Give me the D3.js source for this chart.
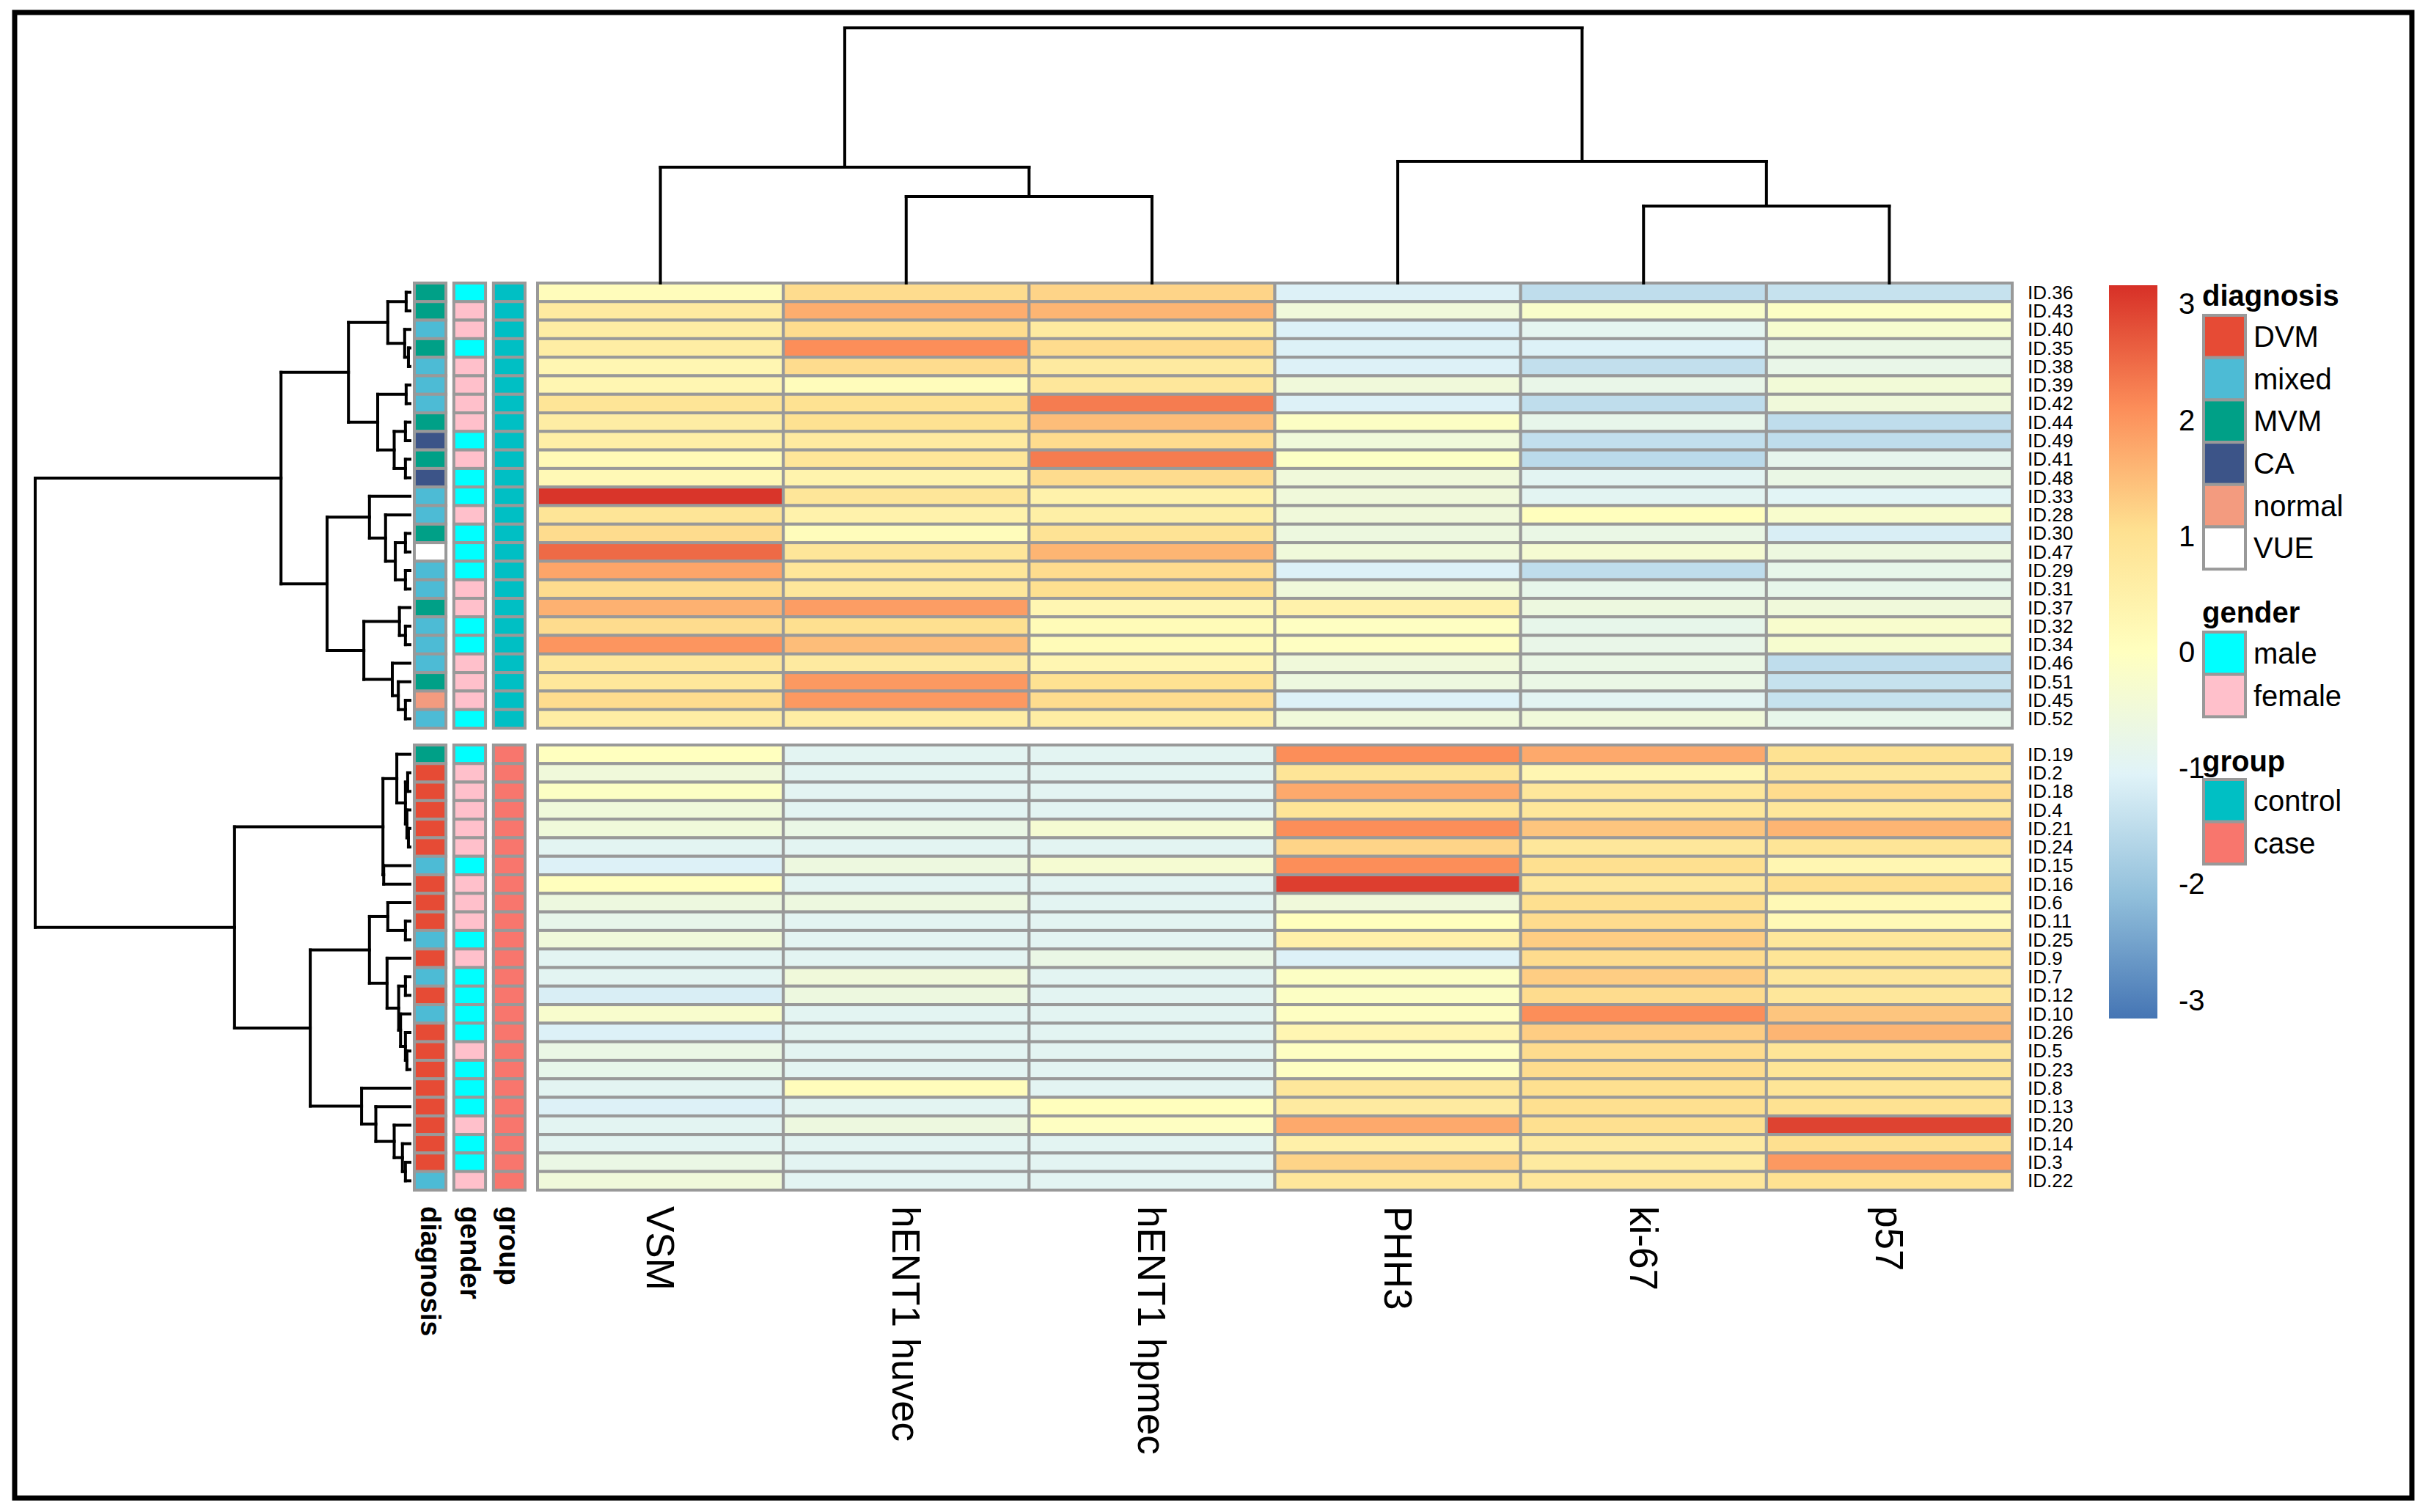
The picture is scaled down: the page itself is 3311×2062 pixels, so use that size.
<!DOCTYPE html>
<html><head><meta charset="utf-8">
<script src="https://cdn.jsdelivr.net/npm/d3@7"></script>
<style>body{margin:0;background:#fff} svg{display:block} text{font-family:"Liberation Sans",Arial,Helvetica,sans-serif;fill:#000}</style>
</head><body><svg id="c" width="3311" height="2062"></svg>
<script>
// ---------------- data ----------------
const columns = ["VSM","hENT1 huvec","hENT1 hpmec","PHH3","ki-67","p57"];
const annotNames = ["diagnosis","gender","group"];

const rowsTop = ["ID.36","ID.43","ID.40","ID.35","ID.38","ID.39","ID.42","ID.44","ID.49","ID.41","ID.48","ID.33",
  "ID.28","ID.30","ID.47","ID.29","ID.31","ID.37","ID.32","ID.34","ID.46","ID.51","ID.45","ID.52"];
const rowsBottom = ["ID.19","ID.2","ID.18","ID.4","ID.21","ID.24","ID.15","ID.16","ID.6","ID.11","ID.25","ID.9",
  "ID.7","ID.12","ID.10","ID.26","ID.5","ID.23","ID.8","ID.13","ID.20","ID.14","ID.3","ID.22"];

const valuesTop = [
  [0.1,1.1,1.2,-1.1,-1.5,-1.4],
  [0.7,1.7,1.6,-0.5,-0.2,-0.1],
  [0.6,1.1,0.7,-1.1,-0.9,-0.3],
  [0.6,2.1,1.1,-1.1,-1.1,-0.7],
  [0.3,1.1,0.7,-1.1,-1.45,-0.75],
  [0.3,0.1,0.8,-0.5,-0.75,-0.45],
  [0.9,1.0,2.3,-1.1,-1.5,-0.5],
  [0.6,1.0,1.5,-0.1,-0.8,-1.5],
  [0.55,0.7,1.1,-0.5,-1.45,-1.5],
  [0.2,0.85,2.3,-0.1,-1.55,-0.85],
  [0.2,0.4,1.1,-0.5,-0.95,-0.7],
  [3.1,0.85,0.45,-0.5,-0.95,-1.0],
  [0.9,0.45,0.55,-0.5,0.05,-0.25],
  [1.1,0.1,0.95,-0.6,-0.7,-1.15],
  [2.5,0.85,1.6,-0.5,-0.35,-0.6],
  [1.8,0.85,1.1,-1.1,-1.5,-0.8],
  [1.1,0.8,1.05,-0.5,-0.8,-0.8],
  [1.65,1.9,0.3,0.45,-0.6,-0.5],
  [1.1,1.05,0.15,-0.05,-0.8,-0.25],
  [2.0,1.5,0.15,-0.05,-0.75,-0.3],
  [0.8,0.7,0.3,-0.5,-0.7,-1.5],
  [0.8,1.95,1.0,-0.6,-0.7,-1.4],
  [1.1,1.95,1.1,-1.1,-0.95,-1.4],
  [0.6,0.6,0.6,-0.5,-0.5,-0.8]
];
const valuesBottom = [
  [0.0,-0.95,-0.95,2.1,1.75,1.0],
  [-0.5,-0.95,-0.95,0.9,0.3,0.8],
  [-0.1,-0.95,-0.95,1.75,0.8,1.1],
  [-0.5,-0.95,-0.95,0.9,0.8,0.8],
  [-0.5,-0.7,-0.35,2.1,1.4,1.6],
  [-0.95,-0.95,-0.95,1.2,0.8,0.9],
  [-1.1,-0.6,-0.35,2.1,1.05,0.3],
  [0.05,-0.95,-0.95,3.0,0.8,1.05],
  [-0.6,-0.6,-0.95,-0.5,1.05,0.2],
  [-0.8,-0.95,-0.95,0.05,1.1,0.2],
  [-0.5,-0.95,-0.95,0.5,1.3,0.8],
  [-0.95,-0.95,-0.7,-1.1,1.1,0.9],
  [-0.95,-0.5,-0.95,-0.1,1.3,0.8],
  [-1.15,-0.6,-0.95,-0.1,1.1,0.8],
  [-0.25,-0.95,-0.95,-0.05,2.1,1.4],
  [-1.1,-0.95,-0.95,0.3,1.3,1.6],
  [-0.7,-0.95,-0.95,-0.05,1.1,0.9],
  [-0.8,-0.95,-0.95,-0.05,1.1,0.9],
  [-0.95,0.1,-0.95,0.8,1.05,0.9],
  [-1.1,-0.95,0.05,0.7,1.05,1.0],
  [-0.95,-0.6,-0.05,1.75,1.05,2.95],
  [-0.95,-0.95,-0.95,0.5,0.7,1.05],
  [-0.7,-0.95,-0.95,1.2,0.7,1.95],
  [-0.5,-0.95,-0.95,0.8,0.8,1.0]
];

const diagnosisTop = ["MVM","MVM","mixed","MVM","mixed","mixed","mixed","MVM","CA","MVM","CA","mixed",
  "mixed","MVM","VUE","mixed","mixed","MVM","mixed","mixed","mixed","MVM","normal","mixed"];
const genderTop = ["male","female","female","male","female","female","female","female","male","female","male","male",
  "female","male","male","male","female","female","male","male","female","female","female","male"];
const groupTop = Array(24).fill("control");
const diagnosisBottom = ["MVM","DVM","DVM","DVM","DVM","DVM","mixed","DVM","DVM","DVM","mixed","DVM",
  "mixed","DVM","mixed","DVM","DVM","DVM","DVM","DVM","DVM","DVM","DVM","mixed"];
const genderBottom = ["male","female","female","female","female","female","male","female","female","female","male","female",
  "male","male","male","male","female","male","male","male","female","male","male","female"];
const groupBottom = Array(24).fill("case");

const diagnosisLevels = ["DVM","mixed","MVM","CA","normal","VUE"];
const diagnosisColors = ["#E64B35","#4DBBD5","#00A087","#3C5488","#F39B7F","#FFFFFF"];
const genderLevels = ["male","female"];
const genderColors = ["#00FFFF","#FFC0CB"];
const groupLevels = ["control","case"];
const groupColors = ["#00BFC4","#F8766D"];

const heatColors = ["#4575B4","#91BFDB","#E0F3F8","#FFFFBF","#FEE090","#FC8D59","#D73027"];
const colorbarTicks = [3,2,1,0,-1,-2,-3];

// column dendrogram: [height, left, right], leaves = column index
const colTree = [10, [4.54, 0, [3.39, 1, 2]], [4.77, 3, [3.02, 4, 5]]];
// row dendrogram: leaves = row index (0-23 top block, 24-47 bottom block)
const rowTree = [10,
  [3.44,
    [1.64,
      [0.59, [0.1,0,1], [0.14,2,[0.04,3,4]]],
      [0.86, [0.1,5,6], [0.42,[0.12,7,8],[0.12,9,10]]]],
    [2.21,
      [1.08, 11, [0.65, 12, [0.39, [0.12,13,14], [0.12,15,16]]]],
      [1.23, [0.28, 17, [0.12,18,19]], [0.47, 20, [0.31, 21, [0.12,22,23]]]]]],
  [4.68,
    [0.72,
      [0.35, 24, [0.12, [0.06,25,26], [0.08, 27, [0.04,28,29]]]],
      [0.70, 30, 31]],
    [2.66,
      [1.08,
        [0.59, 32, [0.12,33,34]],
        [0.61, 35, [0.30, [0.12,36,37], [0.25, 38, [0.12, 39, [0.08,40,41]]]]]],
      [1.29, 42, [0.91, 43, [0.42, 44, [0.2, 45, [0.12,46,47]]]]]]]
];

// ---------------- drawing ----------------
const svg = d3.select("#c");
const GRID = "#999999";

svg.append("rect").attr("x",20).attr("y",17).attr("width",3269).attr("height",2026)
  .attr("fill","none").attr("stroke","#000").attr("stroke-width",7);

const x = d3.scaleBand().domain(columns).range([733, 2744]);
const yTop = d3.scaleBand().domain(rowsTop).range([386, 993]);
const yBot = d3.scaleBand().domain(rowsBottom).range([1016, 1623]);
const xAnn = d3.scaleBand().domain(annotNames).range([565, 716]).paddingInner(0.2);
const color = d3.scaleLinear()
  .domain(d3.range(7).map(i => -3.16 + i*6.32/6))
  .range(heatColors).clamp(true);

function block(rows, vals, yS, ann) {
  const g = svg.append("g");
  rows.forEach((r, i) => {
    g.selectAll(null).data(vals[i]).join("rect")
      .attr("x", (d, j) => x(columns[j])).attr("y", yS(r))
      .attr("width", x.bandwidth()).attr("height", yS.bandwidth())
      .attr("fill", d => color(d)).attr("stroke", GRID).attr("stroke-width", 4);
  });
  const annColor = {
    diagnosis: d3.scaleOrdinal(diagnosisLevels, diagnosisColors),
    gender: d3.scaleOrdinal(genderLevels, genderColors),
    group: d3.scaleOrdinal(groupLevels, groupColors)
  };
  annotNames.forEach((a, k) => {
    g.selectAll(null).data(ann[k]).join("rect")
      .attr("x", xAnn(a)).attr("y", (d, i) => yS(rows[i]))
      .attr("width", xAnn.bandwidth()).attr("height", yS.bandwidth())
      .attr("fill", d => annColor[a](d)).attr("stroke", GRID).attr("stroke-width", 4);
  });
  g.selectAll(null).data(rows).join("text")
    .attr("x", 2765).attr("y", d => yS(d) + yS.bandwidth()/2)
    .attr("dominant-baseline", "central").attr("font-size", 26).text(d => d);
}
block(rowsTop, valuesTop, yTop, [diagnosisTop, genderTop, groupTop]);
block(rowsBottom, valuesBottom, yBot, [diagnosisBottom, genderBottom, groupBottom]);

// column labels
svg.selectAll(".cl").data(columns).join("text")
  .attr("transform", d => `translate(${x(d) + x.bandwidth()/2},1645) rotate(90)`)
  .attr("dominant-baseline", "central").attr("font-size", 53).text(d => d);
svg.selectAll(".al").data(annotNames).join("text")
  .attr("transform", d => `translate(${xAnn(d) + xAnn.bandwidth()/2},1645) rotate(90)`)
  .attr("dominant-baseline", "central").attr("font-size", 38).attr("font-weight", "bold").text(d => d);

// dendrograms
function layoutTree(node, leafPos, segs) {
  if (typeof node === "number") return {p: leafPos(node), h: 0};
  const a = layoutTree(node[1], leafPos, segs), b = layoutTree(node[2], leafPos, segs);
  const h = node[0];
  segs.push({p1: a.p, p2: a.p, h1: a.h, h2: h});
  segs.push({p1: b.p, p2: b.p, h1: b.h, h2: h});
  segs.push({p1: a.p, p2: b.p, h1: h, h2: h});
  return {p: (a.p + b.p)/2, h};
}
const allRows = rowsTop.concat(rowsBottom);
const rowPos = i => i < 24 ? yTop(allRows[i]) + yTop.bandwidth()/2 : yBot(allRows[i]) + yBot.bandwidth()/2;
const rowH = d3.scaleLinear().domain([0, 10]).range([559, 48]);
const rowSegs = [];
layoutTree(rowTree, rowPos, rowSegs);
svg.append("g").selectAll("line").data(rowSegs).join("line")
  .attr("x1", d => rowH(d.h1)).attr("x2", d => rowH(d.h2))
  .attr("y1", d => d.p1).attr("y2", d => d.p2)
  .attr("stroke", "#000").attr("stroke-width", 4).attr("stroke-linecap", "square");

const colPos = i => x(columns[i]) + x.bandwidth()/2;
const colH = d3.scaleLinear().domain([0, 10]).range([386, 38]);
const colSegs = [];
layoutTree(colTree, colPos, colSegs);
svg.append("g").selectAll("line").data(colSegs).join("line")
  .attr("y1", d => colH(d.h1)).attr("y2", d => colH(d.h2))
  .attr("x1", d => d.p1).attr("x2", d => d.p2)
  .attr("stroke", "#000").attr("stroke-width", 4).attr("stroke-linecap", "square");

// colour bar
const cbY = d3.scaleLinear().domain([-3.16, 3.16]).range([1389, 389]);
const grad = svg.append("defs").append("linearGradient").attr("id", "cb")
  .attr("x1", 0).attr("x2", 0).attr("y1", 1).attr("y2", 0);
grad.selectAll("stop").data(heatColors).join("stop")
  .attr("offset", (d, i) => i/6).attr("stop-color", d => d);
svg.append("rect").attr("x", 2876).attr("y", cbY(3.16)).attr("width", 66)
  .attr("height", cbY(-3.16) - cbY(3.16)).attr("fill", "url(#cb)");
svg.selectAll(".tk").data(colorbarTicks).join("text")
  .attr("x", 2971).attr("y", d => cbY(d)).attr("dominant-baseline", "central")
  .attr("font-size", 40).text(d => d);

// annotation legends
const legends = [
  {title: "diagnosis", levels: diagnosisLevels, colors: diagnosisColors, ty: 403, by: 430},
  {title: "gender", levels: genderLevels, colors: genderColors, ty: 835, by: 862},
  {title: "group", levels: groupLevels, colors: groupColors, ty: 1038, by: 1063}
];
const boxH = 57.7;
legends.forEach(L => {
  const g = svg.append("g");
  g.append("text").attr("x", 3003).attr("y", L.ty).attr("dominant-baseline", "central")
    .attr("font-size", 40).attr("font-weight", "bold").text(L.title);
  g.selectAll("rect").data(L.levels).join("rect")
    .attr("x", 3005).attr("y", (d, i) => L.by + i*boxH).attr("width", 57).attr("height", boxH)
    .attr("fill", (d, i) => L.colors[i]).attr("stroke", GRID).attr("stroke-width", 4);
  g.selectAll("text.e").data(L.levels).join("text").attr("class", "e")
    .attr("x", 3073).attr("y", (d, i) => L.by + (i + 0.5)*boxH).attr("dominant-baseline", "central")
    .attr("font-size", 40).text(d => d);
});
</script></body></html>
